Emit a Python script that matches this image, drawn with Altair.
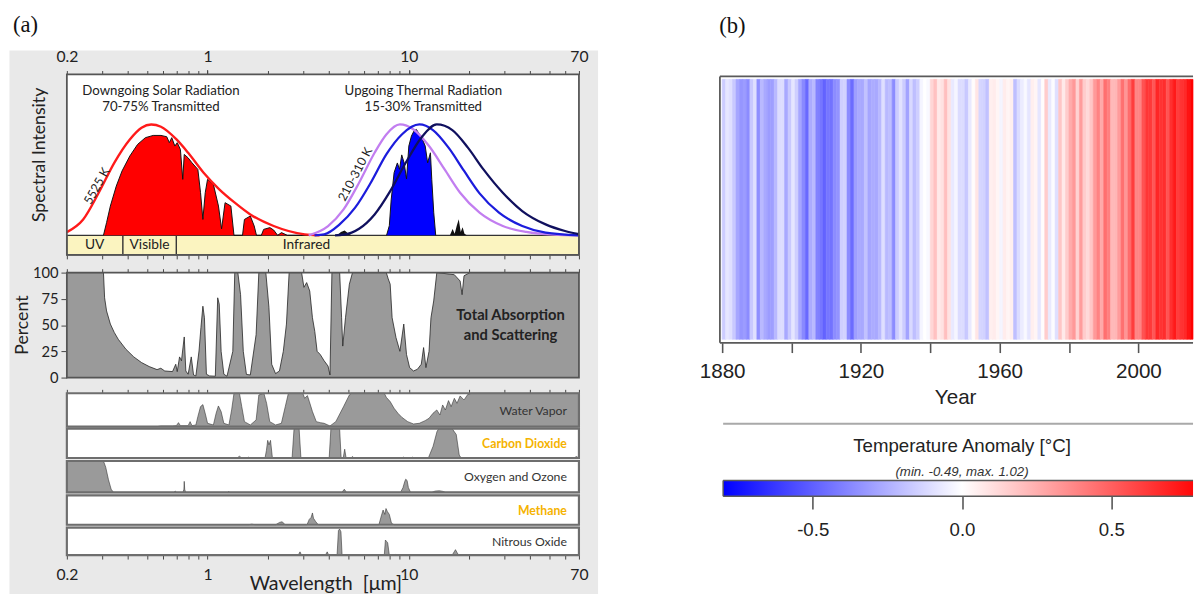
import math
import altair as alt
import pandas as pd

# ============ Panel (a): atmospheric transmission ============
wl_ticks = [0.2, 0.3, 0.4, 0.5, 0.6, 0.7, 0.8, 0.9, 1, 2, 3, 4, 5, 6, 7, 8, 9, 10, 20, 30, 40, 50, 60, 70]
wl_major = [1, 10]
wl_labels = [0.2, 1, 10, 70]
pct_ticks = [0, 25, 50, 75, 100]

# 5525 K black-body envelope (normalised spectral intensity)
sun_bb_wl = [0.2, 0.241, 0.288, 0.344, 0.411, 0.47, 0.525, 0.587, 0.701, 0.801, 0.956, 1.143, 1.365, 1.631, 2.13, 3.04, 3.6]
sun_bb_val = [0.02, 0.099, 0.265, 0.451, 0.596, 0.669, 0.689, 0.675, 0.596, 0.513, 0.389, 0.286, 0.203, 0.13, 0.058, 0.006, 0.0]

# transmitted solar radiation (red fill)
sun_tr_wl = [0.304, 0.315, 0.329, 0.352, 0.376, 0.411, 0.449, 0.491, 0.537, 0.587, 0.627, 0.646, 0.664, 0.688, 0.707,
             0.733, 0.753, 0.766, 0.80, 0.837, 0.895, 0.923, 0.948, 0.974, 1.0, 1.069, 1.133, 1.174, 1.222, 1.306,
             1.353, 1.492, 1.525, 1.631, 1.705, 1.75, 1.85, 1.9, 2.04, 2.13, 2.23, 2.33, 2.49, 3.5]
sun_tr_val = [0.0, 0.079, 0.182, 0.306, 0.40, 0.493, 0.565, 0.607, 0.621, 0.621, 0.613, 0.576, 0.607, 0.555, 0.576,
              0.534, 0.348, 0.503, 0.482, 0.451, 0.41, 0.265, 0.099, 0.265, 0.348, 0.317, 0.182, 0.04, 0.203, 0.182,
              0.0, 0.0, 0.099, 0.12, 0.058, 0.0, 0.0, 0.037, 0.048, 0.033, 0.0, 0.017, 0.0, 0.0]

# 210-310 K black-body envelopes
th_violet_wl = [3.18, 3.97, 4.74, 5.66, 6.76, 7.73, 9.03, 10.55, 12.6, 15.06, 17.98, 22.46, 29.3, 38.3, 52.3, 70]
th_violet_val = [0.0, 0.058, 0.161, 0.327, 0.513, 0.627, 0.689, 0.658, 0.555, 0.41, 0.265, 0.141, 0.058, 0.021, 0.004, 0.0]
th_blue_wl = [3.4, 3.8, 4.53, 5.41, 6.47, 7.73, 9.23, 11.28, 13.18, 15.75, 18.82, 22.46, 28.05, 36.6, 47.8, 70]
th_blue_val = [0.0, 0.006, 0.068, 0.172, 0.327, 0.503, 0.627, 0.689, 0.654, 0.545, 0.40, 0.261, 0.141, 0.058, 0.017, 0.0]
th_navy_wl = [4.3, 4.74, 5.66, 6.76, 8.08, 9.65, 11.53, 13.77, 16.45, 19.65, 23.48, 29.3, 36.6, 47.8, 59.7, 70]
th_navy_val = [0.0, 0.004, 0.041, 0.13, 0.275, 0.451, 0.607, 0.689, 0.654, 0.545, 0.41, 0.265, 0.151, 0.068, 0.027, 0.008]

# transmitted thermal radiation (blue fill) and small dark spikes
th_tr_wl = [7.75, 8.0, 8.17, 8.45, 8.77, 8.99, 9.22, 9.48, 9.74, 10.0, 10.3, 10.6, 10.9, 11.3, 11.6, 12.06, 12.4, 12.8, 13.0, 13.3, 13.6]
th_tr_val = [0.0, 0.06, 0.22, 0.39, 0.45, 0.41, 0.50, 0.45, 0.35, 0.555, 0.617, 0.648, 0.658, 0.627, 0.607, 0.555, 0.451, 0.513, 0.348, 0.14, 0.0]
th_dark_wl = [4.4, 4.6, 4.8, 5.0, 5.2, 16.0, 16.5, 16.9, 17.3, 17.7, 18.1, 18.5, 18.9, 19.4]
th_dark_val = [0.0, 0.02, 0.03, 0.012, 0.0, 0.0, 0.04, 0.01, 0.06, 0.1, 0.02, 0.05, 0.01, 0.0]

band_names = ["UV", "Visible", "Infrared"]
band_start = [0.2, 0.38, 0.70]
band_end = [0.38, 0.70, 70]
band_label_wl = [0.275, 0.515, 3.1]

# total absorption and scattering (%)
pct_wl = [0.2, 0.304, 0.308, 0.315, 0.329, 0.344, 0.36, 0.393, 0.43, 0.47,
          0.513, 0.561, 0.586, 0.613, 0.67, 0.695, 0.707, 0.726, 0.742, 0.766,
          0.78, 0.801, 0.83, 0.852, 0.875, 0.907, 0.927, 0.948, 0.965, 0.987,
          1.023, 1.093, 1.123, 1.143, 1.168, 1.205, 1.249, 1.335, 1.365, 1.414,
          1.459, 1.505, 1.56, 1.631, 1.743, 1.798, 1.948, 2.018, 2.083, 2.177,
          2.276, 2.379, 2.466, 2.543, 2.933, 3.012, 3.107, 3.219, 3.32, 3.41,
          3.503, 3.629, 3.795, 3.968, 4.057, 4.148, 4.533, 4.634, 4.696, 4.845,
          5.065, 5.249, 7.727, 7.901, 8.078, 8.26, 8.637, 9.03, 9.438, 9.737,
          10.09, 10.55, 11.03, 11.53, 11.84, 12.16, 12.6, 12.88, 13.29, 13.77,
          16.83, 17.98, 18.39, 18.8, 20.1, 70]
pct_val = [100, 100, 76, 63.5, 51, 43, 36.5, 27, 19.7, 14.3,
           10.5, 7.6, 8.9, 6.3, 5.7, 12.7, 5.7, 19.7, 16, 38.7,
           6.3, 3.2, 19.7, 2.5, 1.6, 25.4, 47.6, 68, 57, 3.2,
           1.6, 1.3, 76, 70, 25, 3.2, 1.3, 25, 100, 100,
           79, 25, 3, 2.5, 41, 100, 100, 67, 12.7, 3.8,
           6.3, 25, 51, 100, 100, 86, 90.5, 82.5, 57, 44,
           25, 22, 16, 11, 2.5, 100, 100, 57, 30, 57,
           89, 100, 100, 94, 89, 57, 38, 25, 51, 22,
           9.5, 6.3, 7.9, 12.7, 28.6, 9.5, 25, 57, 73, 100,
           98, 92, 79, 97, 100, 100]

# individual absorbers (fraction absorbed)
wv_wl = [0.2, 0.561, 0.586, 0.67, 0.70, 0.717, 0.733, 0.801, 0.819, 0.837,
         0.875, 0.895, 0.923, 0.948, 0.978, 1.0, 1.069, 1.103, 1.132, 1.168,
         1.205, 1.277, 1.317, 1.353, 1.44, 1.479, 1.525, 1.631, 1.743, 1.798,
         1.905, 1.965, 2.037, 2.177, 2.327, 2.433, 2.521, 2.972, 3.038, 3.134,
         3.205, 3.32, 3.47, 3.629, 3.795, 4.057, 4.336, 4.739, 5.065, 5.18,
         7.556, 7.727, 8.078, 8.447, 8.83, 9.23, 9.87, 10.55, 11.27, 12.05,
         12.6, 13.18, 13.77, 14.27, 14.72, 15.19, 15.74, 16.23, 16.83, 17.35,
         17.98, 18.8, 19.65, 20.54, 70]
wv_val = [0, 0, 0.02, 0.02, 0.03, 0.12, 0.03, 0.03, 0.15, 0.03,
          0.05, 0.3, 0.6, 0.66, 0.35, 0.1, 0.05, 0.4, 0.62, 0.45,
          0.1, 0.05, 0.5, 1.0, 1.0, 0.6, 0.15, 0.05, 0.2, 0.95,
          1.0, 0.7, 0.15, 0.05, 0.1, 0.6, 1.0, 1.0, 0.85, 0.93,
          0.75, 0.45, 0.15, 0.12, 0.1, 0.02, 0.15, 0.6, 0.95, 1.0,
          1.0, 0.88, 0.75, 0.55, 0.4, 0.28, 0.15, 0.08, 0.1, 0.18,
          0.25, 0.4, 0.5, 0.35, 0.65, 0.5, 0.78, 0.6, 0.85, 0.7,
          0.92, 0.8, 0.97, 1.0, 1.0]
co2_wl = [0.2, 1.40, 1.44, 1.48, 1.57, 1.595, 1.62, 1.93, 1.96, 1.99,
          2.02, 2.055, 2.10, 2.63, 2.69, 2.85, 2.91, 4.02, 4.10, 4.53,
          4.61, 4.72, 4.80, 4.88, 5.15, 5.25, 5.35, 9.2, 9.4, 9.6,
          10.2, 10.4, 10.6, 12.5, 13.2, 13.8, 14.1, 16.4, 17.2, 17.8,
          18.2, 66, 68, 70]
co2_val = [0, 0, 0.06, 0, 0, 0.03, 0, 0, 0.25, 0.6,
           0.45, 0.6, 0, 0, 1, 1, 0, 0, 1, 1,
           0, 0, 0.3, 0, 0, 0.05, 0, 0, 0.03, 0,
           0, 0.03, 0, 0, 0.4, 0.9, 1, 1, 0.8, 0.1,
           0, 0, 0.05, 0]
o3_wl = [0.2, 0.304, 0.312, 0.322, 0.332, 0.341, 0.68, 0.692, 0.70, 0.755,
         0.763, 0.766, 0.770, 0.778, 1.26, 1.277, 1.29, 4.65, 4.78, 4.90,
         9.1, 9.35, 9.55, 9.65, 9.8, 9.95, 10.2, 13.0, 13.5, 14.2,
         14.8, 15.2, 70]
o3_val = [1, 1, 0.8, 0.4, 0.1, 0, 0, 0.04, 0, 0,
          0.1, 0.35, 0.1, 0, 0, 0.03, 0, 0, 0.1, 0,
          0, 0.15, 0.35, 0.42, 0.38, 0.15, 0, 0, 0.04, 0.05,
          0.03, 0, 0]
ch4_wl = [0.2, 1.6, 1.66, 1.72, 2.18, 2.28, 2.35, 2.43, 3.12, 3.2,
          3.27, 3.32, 3.36, 3.45, 3.55, 7.1, 7.3, 7.45, 7.6, 7.7,
          7.82, 8.0, 8.2, 8.45, 70]
ch4_val = [0, 0, 0.02, 0, 0, 0.08, 0.1, 0, 0, 0.18,
           0.25, 0.4, 0.22, 0.1, 0, 0, 0.3, 0.5, 0.35, 0.55,
           0.45, 0.35, 0.05, 0, 0]
n2o_wl = [0.2, 2.82, 2.88, 2.93, 3.85, 3.93, 4.0, 4.40, 4.47, 4.53,
          4.60, 4.66, 7.55, 7.65, 7.75, 7.85, 8.0, 8.4, 8.55, 8.7,
          16.4, 16.8, 17.05, 17.4, 17.7, 70]
n2o_val = [0, 0, 0.12, 0, 0, 0.12, 0, 0, 0.9, 0.95,
           0.85, 0, 0, 0.55, 0.5, 0.45, 0, 0, 0.03, 0,
           0, 0.12, 0.2, 0.08, 0, 0]

# ============ Panel (b): warming stripes ============
years = list(range(1880, 2020))
anomaly = [
    -0.16, -0.08, -0.10, -0.17, -0.28, -0.33, -0.31, -0.36, -0.17, -0.10,
    -0.35, -0.22, -0.27, -0.31, -0.30, -0.22, -0.11, -0.11, -0.27, -0.17,
    -0.08, -0.15, -0.28, -0.37, -0.47, -0.26, -0.22, -0.39, -0.43, -0.49,
    -0.43, -0.44, -0.36, -0.34, -0.15, -0.14, -0.36, -0.46, -0.30, -0.27,
    -0.27, -0.19, -0.28, -0.26, -0.27, -0.22, -0.10, -0.22, -0.20, -0.36,
    -0.16, -0.09, -0.16, -0.29, -0.12, -0.20, -0.15, -0.03, -0.00, -0.02,
    0.13, 0.19, 0.07, 0.09, 0.20, 0.09, -0.07, -0.03, -0.11, -0.11,
    -0.17, -0.07, 0.01, 0.08, -0.13, -0.14, -0.19, 0.05, 0.06, 0.03,
    -0.03, 0.06, 0.03, 0.05, -0.20, -0.11, -0.06, -0.02, -0.08, 0.05,
    0.03, -0.08, 0.01, 0.16, -0.07, -0.01, -0.10, 0.18, 0.07, 0.16,
    0.26, 0.32, 0.14, 0.31, 0.16, 0.12, 0.18, 0.32, 0.39, 0.27,
    0.45, 0.40, 0.22, 0.23, 0.31, 0.45, 0.33, 0.46, 0.61, 0.38,
    0.39, 0.54, 0.63, 0.62, 0.53, 0.68, 0.64, 0.66, 0.54, 0.65,
    0.72, 0.61, 0.64, 0.67, 0.74, 0.90, 1.02, 0.92, 0.85, 0.98,
]
year_ticks = [1880, 1900, 1920, 1940, 1960, 1980, 2000]
cb_ticks = [-0.5, 0.0, 0.5]
anomaly_domain = [-0.8, 0.0, 0.8]
anomaly_colors = ["#0000ff", "#ffffff", "#ff0000"]

# ============ styling / layout ============
FONT_A = "Lato"
FONT_B = "Liberation Sans"
FONT_T = "Liberation Serif"
INK = "#222222"

PAGE_LEFT = 8.0
PLOT_TOP = 43.0
L_W, L_H = 600, 554
R_W, R_H = 485, 510
GAP = 102
R_LEFT = PAGE_LEFT + L_W + GAP

DEC_PX = (589 - 67) / math.log10(70 / 0.2)
LOG_A = math.log10(0.2) - (67 - PAGE_LEFT) / DEC_PX
LOG_B = LOG_A + L_W / DEC_PX
X_LOG = alt.Scale(type="log", domain=[10 ** LOG_A, 10 ** LOG_B], nice=False)


def px_to_wl(px):
    return 10 ** (LOG_A + (px - PAGE_LEFT) / DEC_PX)


def lin_domain(v0, p0, v1, p1, height):
    k = (p0 - p1) / (v1 - v0)
    return [v0 - (PLOT_TOP + height - p0) / k, v1 + (p1 - PLOT_TOP) / k]


def py_to_val(v0, p0, v1, p1, py):
    return v0 + (p0 - py) * (v1 - v0) / (p0 - p1)


PANEL_PX = {
    "top": (0, 232.0, 1, 68.0),
    "pct": (0, 377.0, 100, 270.0),
    "wv": (0, 427.0, 1, 393.0),
    "co2": (0, 459.0, 1, 429.0),
    "o3": (0, 494.0, 1, 462.0),
    "ch4": (0, 527.0, 1, 497.0),
    "n2o": (0, 558.0, 1, 530.0),
}
YDOM = {k: lin_domain(*v, L_H) for k, v in PANEL_PX.items()}
ONE = pd.DataFrame({"one": [1]})


def ysc(p):
    return alt.Scale(domain=YDOM[p], nice=False, zero=False)


def box(p, x0, x1, y0, y1, xaxis=None, yaxis=None, **props):
    return alt.Chart(ONE).mark_rect(**props).encode(
        x=alt.XDatum(x0, scale=X_LOG, axis=xaxis),
        x2=alt.X2Datum(x1),
        y=alt.YDatum(y0, scale=ysc(p), axis=yaxis),
        y2=alt.Y2Datum(y1),
    )


def fill_area(p, wl, val, fill, line_color=None, line_width=1.0):
    df = pd.DataFrame({"wl": wl, "v": val})
    props = {"fill": fill, "opacity": 1}
    if line_color is not None:
        props["line"] = {"color": line_color, "strokeWidth": line_width}
    return alt.Chart(df).mark_area(**props).encode(
        x=alt.X("wl:Q", scale=X_LOG, axis=None),
        y=alt.Y("v:Q", scale=ysc(p), axis=None),
        y2=alt.Y2Datum(0),
    )


def curve(p, wl, val, color, width=2.0):
    df = pd.DataFrame({"wl": wl, "v": val})
    return alt.Chart(df).mark_line(color=color, strokeWidth=width, interpolate="monotone").encode(
        x=alt.X("wl:Q", scale=X_LOG, axis=None),
        y=alt.Y("v:Q", scale=ysc(p), axis=None),
    )


def label(p, x, y, text, **props):
    base = dict(font=FONT_A, fontSize=13, color=INK)
    base.update(props)
    return alt.Chart(ONE).mark_text(text=text, **base).encode(
        x=alt.XDatum(x, scale=X_LOG, axis=None),
        y=alt.YDatum(y, scale=ysc(p), axis=None),
    )


WL_LABEL_EXPR = " : ".join(f"datum.value == {v} ? '{v}'" for v in wl_labels) + " : ''"


def wl_axis(orient, page_y, with_labels=False, values=None, tick_size=4):
    off = -(page_y - PLOT_TOP) if orient == "top" else (page_y - PLOT_TOP) - L_H
    kw = dict(orient=orient, offset=off, values=values or wl_ticks, tickSize=tick_size, tickColor="#444444",
              tickWidth=1, domain=False, grid=False, title=None, labelOverlap=False, labelFlush=False)
    if with_labels:
        kw.update(labelExpr=WL_LABEL_EXPR, labelFont=FONT_A, labelFontSize=16, labelColor=INK,
                  labelPadding=6 if orient == "top" else 8)
    else:
        kw.update(labels=False)
    return alt.Axis(**kw)


PCT_AXIS = alt.Axis(orient="left", offset=-(67 - PAGE_LEFT), values=pct_ticks, tickSize=6, tickColor="#444444",
                    domain=False, grid=False, title=None, labelFont=FONT_A, labelFontSize=15, labelColor=INK,
                    labelPadding=3)

# ---------------- left layers ----------------
L = []
top_lo = py_to_val(*PANEL_PX["top"], 252.0)
L.append(box("top", 0.2, 70, top_lo, 1, fill="white",
             xaxis=wl_axis("top", 72.0, values=wl_major, tick_size=9)))
band_df = pd.DataFrame({"name": band_names, "start": band_start, "end": band_end, "mid": band_label_wl})
L.append(alt.Chart(band_df).mark_rect(fill="#fbf4c0", stroke="#333333", strokeWidth=1.2).encode(
    x=alt.X("start:Q", scale=X_LOG, axis=wl_axis("bottom", 252.0)), x2="end:Q",
    y=alt.YDatum(top_lo, scale=ysc("top"), axis=None), y2=alt.Y2Datum(0)))
L.append(alt.Chart(band_df).mark_text(font=FONT_A, fontSize=14, color=INK).encode(
    x=alt.X("mid:Q", scale=X_LOG, axis=None),
    y=alt.YDatum(top_lo / 2, scale=ysc("top"), axis=None), text="name:N"))
L.append(fill_area("top", sun_tr_wl, sun_tr_val, "#ff0000", "#111111", 1.0))
L.append(fill_area("top", th_tr_wl, th_tr_val, "#0000ff", "#111111", 1.0))
L.append(fill_area("top", th_dark_wl, th_dark_val, "#111111"))
L.append(curve("top", sun_bb_wl, sun_bb_val, "#ff1a1a", 2.4))
L.append(curve("top", th_violet_wl, th_violet_val, "#c27ef0", 2.3))
L.append(curve("top", th_blue_wl, th_blue_val, "#1c1cdc", 2.3))
L.append(curve("top", th_navy_wl, th_navy_val, "#10105e", 2.3))
L.append(label("top", 0.587, 0.895, "Downgoing Solar Radiation", fontSize=13.5))
L.append(label("top", 0.587, 0.80, "70-75% Transmitted", fontSize=13.5))
L.append(label("top", 11.8, 0.895, "Upgoing Thermal Radiation", fontSize=13.5))
L.append(label("top", 11.8, 0.80, "15-30% Transmitted", fontSize=13.5))
L.append(label("top", 0.282, 0.306, "5525 K", fontSize=12.5, angle=299))
L.append(label("top", 5.42, 0.379, "210-310 K", fontSize=12.5, angle=298))
L.append(label("top", px_to_wl(40), 0.5, "Spectral Intensity", fontSize=18, angle=270))
L.append(box("top", 0.2, 70, top_lo, 1, xaxis=wl_axis("top", 68.0, True), fill="white", fillOpacity=0,
             stroke="#555555", strokeWidth=1.8))

L.append(box("pct", 0.2, 70, 0, 100, xaxis=wl_axis("top", 270.0), fill="white"))
L.append(fill_area("pct", pct_wl, pct_val, "#9a9a9a", "#222222", 0.8))
L.append(label("pct", 32, 60, "Total Absorption", fontSize=15, fontWeight="bold"))
L.append(label("pct", 32, 40.5, "and Scattering", fontSize=15, fontWeight="bold"))
L.append(label("pct", px_to_wl(22), 50, "Percent", fontSize=18, angle=270))
L.append(box("pct", 0.2, 70, 0, 100, yaxis=PCT_AXIS, fill="white", fillOpacity=0, stroke="#555555", strokeWidth=1.8))

gases = [
    ("wv", "Water Vapor", wv_wl, wv_val, "#333333", "normal"),
    ("co2", "Carbon Dioxide", co2_wl, co2_val, "#f5b301", "bold"),
    ("o3", "Oxygen and Ozone", o3_wl, o3_val, "#333333", "normal"),
    ("ch4", "Methane", ch4_wl, ch4_val, "#f5b301", "bold"),
    ("n2o", "Nitrous Oxide", n2o_wl, n2o_val, "#333333", "normal"),
]
for i, (key, name, wl, val, col, wgt) in enumerate(gases):
    top_axis = wl_axis("top", PANEL_PX[key][3]) if i == 0 else None
    bot_axis = wl_axis("bottom", PANEL_PX[key][1], True) if i == len(gases) - 1 else None
    L.append(box(key, 0.2, 70, 0, 1, xaxis=top_axis, fill="white"))
    L.append(fill_area(key, wl, val, "#9a9a9a", "#333333", 0.6))
    L.append(label(key, 61, 0.48, name, fontSize=12.5, align="right", color=col, fontWeight=wgt))
    L.append(box(key, 0.2, 70, 0, 1, xaxis=bot_axis, fill="white", fillOpacity=0, stroke="#6e6e6e", strokeWidth=2.2))
L.append(label("n2o", px_to_wl(331), py_to_val(*PANEL_PX["n2o"], 594.0), "Wavelength\u00a0 [μm]", fontSize=20,
               baseline="alphabetic"))

left = alt.layer(*L).resolve_scale(y="independent").resolve_axis(x="independent", y="independent").properties(
    width=L_W, height=L_H,
    view=alt.ViewBackground(fill="#e9e9e9", stroke="transparent"),
    title=alt.TitleParams(text="(a)", anchor="start", frame="group", dx=4, offset=12, font=FONT_T,
                          fontSize=23, fontWeight="normal", color="#111111"),
)

# ---------------- right layers ----------------
PX_PER_YEAR = (1139.3 - 715.0) / 120
YEAR_A = 1880 - (715.0 - R_LEFT) / PX_PER_YEAR
YEAR_B = YEAR_A + R_W / PX_PER_YEAR
YEAR_SC = alt.Scale(domain=[YEAR_A, YEAR_B], nice=False, zero=False)
STRIPE_PX = (0, 338.0, 1, 73.0)
SY = alt.Scale(domain=lin_domain(*STRIPE_PX, R_H), nice=False, zero=False)

CB_PX_PER_UNIT = (1111.7 - 716.0) / 1.3
CB_A = anomaly_domain[0] - (716.0 - R_LEFT) / CB_PX_PER_UNIT
CB_B = CB_A + R_W / CB_PX_PER_UNIT
CBX = alt.Scale(domain=[CB_A, CB_B], nice=False, zero=False)
CB_PX = (0, 498.0, 1, 482.0)
CY = alt.Scale(domain=lin_domain(*CB_PX, R_H), nice=False, zero=False)

COLOR_SC = alt.Scale(domain=anomaly_domain, range=anomaly_colors, interpolate="rgb", clamp=True)


def px_to_year(px):
    return YEAR_A + (px - R_LEFT) / PX_PER_YEAR


def mix(c0, c1, t):
    a = [int(c0[i:i + 2], 16) for i in (1, 3, 5)]
    b = [int(c1[i:i + 2], 16) for i in (1, 3, 5)]
    return "#" + "".join(f"{round(x + (y - x) * t):02x}" for x, y in zip(a, b))


def hrule(xs, ys_, x0, x1, y, color, width):
    return alt.Chart(ONE).mark_rule(color=color, strokeWidth=width).encode(
        x=alt.XDatum(x0, scale=xs, axis=None), x2=alt.X2Datum(x1),
        y=alt.YDatum(y, scale=ys_, axis=None))


def vrule(xs, ys_, x, y0, y1, color, width):
    return alt.Chart(ONE).mark_rule(color=color, strokeWidth=width).encode(
        x=alt.XDatum(x, scale=xs, axis=None),
        y=alt.YDatum(y0, scale=ys_, axis=None), y2=alt.Y2Datum(y1))


YEAR_AXIS = alt.Axis(orient="bottom", offset=(341.5 - PLOT_TOP) - R_H, values=year_ticks, format="d",
                     labelExpr="datum.value % 40 == 0 ? datum.label : ''", tickSize=10, tickWidth=1.6,
                     tickColor="#555555", domain=False, grid=False, labelFont=FONT_B, labelFontSize=21,
                     labelColor=INK, labelPadding=8, labelOverlap=False, labelFlush=False, title="Year",
                     titleFont=FONT_B, titleFontSize=21, titleFontWeight="normal", titleColor=INK, titlePadding=6)
CB_AXIS = alt.Axis(orient="bottom", offset=(498.0 - PLOT_TOP) - R_H, values=cb_ticks, format=".1f",
                   labelExpr="replace(datum.label, '\u2212', '-')", tickSize=13, tickWidth=1.6,
                   tickColor="#555555", domain=False, grid=False, labelFont=FONT_B, labelFontSize=19,
                   labelColor=INK, labelPadding=12, labelOverlap=False, labelFlush=False, title=None)

stripe_df = pd.DataFrame({"year": years, "anomaly": anomaly})
stripes = alt.Chart(stripe_df).transform_filter(f"datum.year < {YEAR_B}").transform_calculate(
    year_end=f"min(datum.year + 1, {YEAR_B})"
).mark_rect(strokeWidth=0.6).encode(
    x=alt.X("year:Q", scale=YEAR_SC, axis=YEAR_AXIS), x2="year_end:Q",
    y=alt.YDatum(0, scale=SY, axis=None), y2=alt.Y2Datum(1),
    color=alt.Color("anomaly:Q", scale=COLOR_SC, legend=None),
    stroke=alt.Stroke("anomaly:Q", scale=COLOR_SC, legend=None),
)
fx0 = px_to_year(712.7)
fy_bot = py_to_val(*STRIPE_PX, 341.5)
fy_top = py_to_val(*STRIPE_PX, 70.0)
FRAME = "#5a5a5a"

grad_end = mix(anomaly_colors[1], anomaly_colors[2], CB_B / anomaly_domain[2])
GRAD = alt.LinearGradient(
    gradient="linear", x1=0, x2=1, y1=0, y2=0,
    stops=[alt.GradientStop(color=anomaly_colors[0], offset=0),
           alt.GradientStop(color=anomaly_colors[1], offset=(0 - anomaly_domain[0]) / (CB_B - anomaly_domain[0])),
           alt.GradientStop(color=grad_end, offset=1)],
)
cbar = alt.Chart(ONE).mark_rect(fill=GRAD).encode(
    x=alt.XDatum(anomaly_domain[0], scale=CBX, axis=CB_AXIS), x2=alt.X2Datum(CB_B),
    y=alt.YDatum(0, scale=CY, axis=None), y2=alt.Y2Datum(1))

R = [
    stripes,
    hrule(YEAR_SC, SY, fx0, YEAR_B, fy_top, FRAME, 1.8),
    hrule(YEAR_SC, SY, fx0, YEAR_B, fy_bot, FRAME, 1.8),
    vrule(YEAR_SC, SY, fx0, fy_bot, fy_top, FRAME, 1.8),
    hrule(CBX, CY, anomaly_domain[0], CB_B, py_to_val(*CB_PX, 424.0), "#a9a9a9", 2),
    cbar,
    hrule(CBX, CY, anomaly_domain[0], CB_B, 1, FRAME, 1.5),
    hrule(CBX, CY, anomaly_domain[0], CB_B, 0, FRAME, 1.5),
    vrule(CBX, CY, anomaly_domain[0], 0, 1, FRAME, 1.5),
    alt.Chart(ONE).mark_text(text="Temperature Anomaly [°C]", font=FONT_B, fontSize=19, color=INK).encode(
        x=alt.XDatum(0, scale=CBX, axis=None), y=alt.YDatum(py_to_val(*CB_PX, 447.0), scale=CY, axis=None)),
    alt.Chart(ONE).mark_text(text="(min. -0.49, max. 1.02)", font=FONT_B, fontSize=13.5, fontStyle="italic",
                             color="#333333").encode(
        x=alt.XDatum(0, scale=CBX, axis=None), y=alt.YDatum(py_to_val(*CB_PX, 473.0), scale=CY, axis=None)),
]
right = alt.layer(*R).resolve_scale(x="independent", y="independent").resolve_axis(
    x="independent", y="independent").properties(
    width=R_W, height=R_H,
    view=alt.ViewBackground(fill="white", stroke="transparent"),
    title=alt.TitleParams(text="(b)", anchor="start", frame="group", dx=2, offset=12, font=FONT_T,
                          fontSize=23, fontWeight="normal", color="#111111"),
)

chart = alt.hconcat(left, right, spacing=GAP).properties(padding=0, background="white").configure_view(
    stroke="transparent")
chart.save("out.html", embed_options={"renderer": "svg", "actions": False})
